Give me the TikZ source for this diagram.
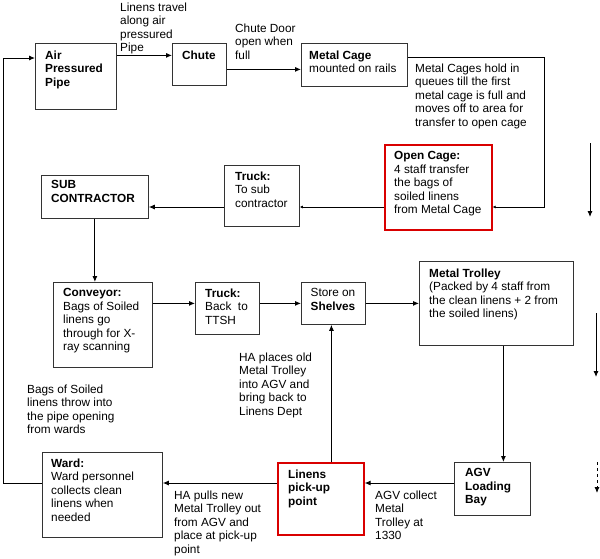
\documentclass[tikz,border=0pt]{standalone}
\usepackage{fontspec}
\setmainfont{Liberation Sans}
\usetikzlibrary{arrows.meta,calc}

\begin{document}
\begin{tikzpicture}[x=1pt,y=-1pt,
    box/.style={draw=black!80,line width=0.8pt,anchor=north west,inner sep=0pt},
    redbox/.style={box,draw=red!85!black,line width=1.6pt},
    txt/.style={anchor=north west,align=left,inner sep=0pt,font=\fontsize{11.8}{13.5}\selectfont},
    flow/.style={line width=0.9pt,-{Latex[length=6pt,width=5pt]}},
    smallflow/.style={line width=0.9pt,-{Latex[length=3pt,width=3pt]}}]
    \useasboundingbox (0,0) rectangle (600,558);
    % Kasser: oeverste raekke
    \node[box,minimum width=81pt,minimum height=66pt] (pipe) at (35,43) {};
    \node[txt] (pipe-txt) at (45,50.5) {\textbf{Air}\\\textbf{Pressured}\\\textbf{Pipe}};
    \node[box,minimum width=54pt,minimum height=42pt] (chute) at (172,43) {};
    \node[txt] (chute-txt) at (182,50.5) {\textbf{Chute}};
    \node[box,minimum width=106pt,minimum height=43pt] (cage) at (301,43) {};
    \node[txt] (cage-txt) at (309,50.5) {\textbf{Metal Cage}\\mounted on rails};
    % Kasser: anden raekke
    \node[redbox,minimum width=107pt,minimum height=85pt] (open) at (384,144) {};
    \node[txt] (open-txt) at (394,151.5) {\textbf{Open Cage:}\\4 staff transfer\\the bags of\\soiled linens\\from Metal Cage};
    \node[box,minimum width=75pt,minimum height=61pt] (truck) at (224,165) {};
    \node[txt] (truck-txt) at (235,171.5) {\textbf{Truck:}\\To sub\\contractor};
    \node[box,minimum width=107pt,minimum height=43pt] (sub) at (41,175) {};
    \node[txt] (sub-txt) at (51,180.5) {\textbf{SUB}\\\textbf{CONTRACTOR}};
    % Kasser: tredje raekke
    \node[box,minimum width=99pt,minimum height=85pt] (conv) at (53,282) {};
    \node[txt] (conv-txt) at (63,288.5) {\textbf{Conveyor:}\\Bags of Soiled\\linens go\\through for X-\\ray scanning};
    \node[box,minimum width=64pt,minimum height=52pt] (back) at (195,282) {};
    \node[txt] (back-txt) at (205,288.5) {\textbf{Truck:}\\Back~ to\\TTSH};
    \node[box,minimum width=64pt,minimum height=42pt] (store) at (301,282) {};
    \node[txt,anchor=north,align=center] (store-txt) at (333,288.5) {Store on\\\textbf{Shelves}};
    \node[box,minimum width=154pt,minimum height=84pt] (trolley) at (419,261) {};
    \node[txt] (trolley-txt) at (429,268.5) {\textbf{Metal Trolley}\\(Packed by 4 staff from\\the clean linens + 2 from\\the soiled linens)};
    % Kasser: nederste raekke
    \node[box,minimum width=120pt,minimum height=85pt] (ward) at (42,452) {};
    \node[txt] (ward-txt) at (51,458.5) {\textbf{Ward:}\\Ward personnel\\collects clean\\linens when\\needed};
    \node[redbox,minimum width=86pt,minimum height=72pt] (pickup) at (277,462) {};
    \node[txt] (pickup-txt) at (288,469.5) {\textbf{Linens}\\\textbf{pick-up}\\\textbf{point}};
    \node[box,minimum width=76pt,minimum height=53pt] (agv) at (454,462) {};
    \node[txt] (agv-txt) at (465,468.5) {\textbf{AGV}\\\textbf{Loading}\\\textbf{Bay}};
    % Frie tekster ved pilene
    \node[txt] (travel) at (120,2.5) {Linens travel\\along air\\pressured\\Pipe};
    \node[txt] (door) at (235,23.5) {Chute Door\\open when\\full};
    \node[txt] (queue) at (415,63.5) {Metal Cages hold in\\queues till the first\\metal cage is full and\\moves off to area for\\transfer to open cage};
    \node[txt] (thrown) at (27,384.5) {Bags of Soiled\\linens throw into\\the pipe opening\\from wards};
    \node[txt] (places) at (239,352.5) {HA places old\\Metal Trolley\\into AGV and\\bring back to\\Linens Dept};
    \node[txt] (pulls) at (174,490.5) {HA pulls new\\Metal Trolley out\\from AGV and\\place at pick-up\\point};
    \node[txt] (collect) at (375,490.5) {AGV collect\\Metal\\Trolley at\\1330};
    % Knaekpunkter
    \coordinate (loop) at (3,483);
    \coordinate (looptop) at (3,58);
    \coordinate (qturn) at (544,207);
    \coordinate (r1a) at (590,143);
    \coordinate (r1b) at (590,217);
    \coordinate (r2a) at (596,313);
    \coordinate (r2b) at (596,377);
    \coordinate (r3a) at (597,462);
    \coordinate (r3b) at (597,493);
    % Pile
    \draw[flow] (loop -| ward.west) -- (loop) -- (looptop) -- (looptop -| pipe.west);
    \draw[flow] ([yshift=9pt]chute.west -| pipe.east) -- ([yshift=9pt]chute.west);
    \draw[flow] ([yshift=-5pt]chute.east) -- ([yshift=-5pt]chute.east -| cage.west);
    \draw[smallflow] ([yshift=7pt]cage.east) -| (qturn) -- (qturn -| open.east);
    \draw[smallflow] (qturn -| open.west) -- (qturn -| truck.east);
    \draw[flow] (qturn -| truck.west) -- (qturn -| sub.east);
    \draw[flow] (sub.south) -- (sub.south |- conv.north);
    \draw[flow] (conv.east |- store.east) -- (back.west |- store.east);
    \draw[flow] (back.east |- store.east) -- (store.west);
    \draw[flow] (store.east) -- (trolley.west |- store.east);
    \draw[flow] ([xshift=7pt]trolley.south) -- ([xshift=7pt]trolley.south |- agv.north);
    \draw[flow] (agv.west |- loop) -- (pickup.east |- loop);
    \draw[flow] (pickup.west |- loop) -- (ward.east |- loop);
    \draw[flow] ([xshift=-2pt]store.south |- pickup.north) -- ([xshift=-2pt]store.south);
    % Pile i hoejre kant
    \draw[flow] (r1a) -- (r1b);
    \draw[flow] (r2a) -- (r2b);
    \draw[flow,dash pattern=on 3pt off 3pt] (r3a) -- (r3b);
\end{tikzpicture}
\end{document}
